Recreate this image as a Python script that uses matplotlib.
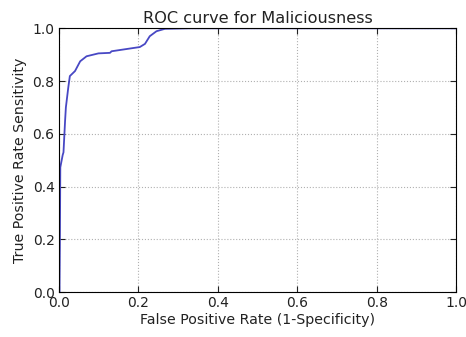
import matplotlib
matplotlib.use("Agg")
import matplotlib.pyplot as plt

# ROC curve points
fpr = [0.002, 0.003, 0.004, 0.010, 0.012, 0.016, 0.018, 0.024, 0.028, 0.041, 0.054,
       0.070, 0.100, 0.129, 0.133, 0.204, 0.217, 0.229, 0.246, 0.267, 0.330, 1.0]
tpr = [0.0, 0.20, 0.473, 0.52, 0.53, 0.649, 0.70, 0.775, 0.819, 0.838, 0.875,
       0.894, 0.905, 0.907, 0.913, 0.929, 0.941, 0.970, 0.989, 0.998, 1.0, 1.0]

ticks = [0.0, 0.2, 0.4, 0.6, 0.8, 1.0]

fig = plt.figure(figsize=(4.66, 3.37), dpi=100)
ax = fig.add_axes([0.126, 0.133, 0.853, 0.783])

ax.plot(fpr, tpr, color="#4848c4", linewidth=1.3)

ax.set_xlim(0.0, 1.0)
ax.set_ylim(0.0, 1.0)
ax.set_xticks(ticks)
ax.set_yticks(ticks)
ax.tick_params(direction="in", top=True, right=True, length=4, labelsize=10, pad=3,
               colors="#222222")
ax.grid(True, color="#b0b0b0", linestyle=":", linewidth=0.8)

ax.set_title("ROC curve for Maliciousness", fontsize=11.6, pad=4, color="#222222")
ax.set_xlabel("False Positive Rate (1-Specificity)", fontsize=10.2, labelpad=2,
              color="#222222")
ax.set_ylabel("True Positive Rate Sensitivity", fontsize=10.2, labelpad=4,
              color="#222222")

fig.savefig("out.png", dpi=100)
